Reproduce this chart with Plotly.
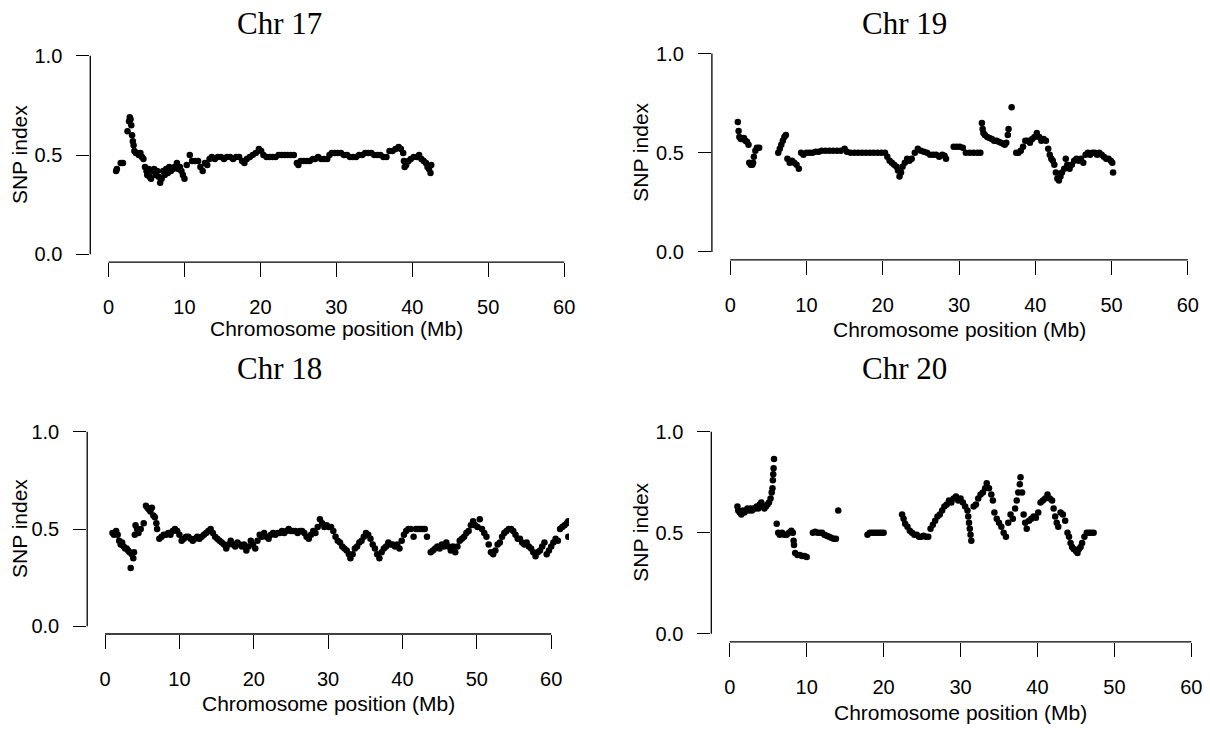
import plotly.graph_objects as go

# ---- SNP-index values along each chromosome (position in Mb, index) ----
chr17_pos = [1.0, 1.1, 1.6, 1.9, 2.5, 2.7, 2.8, 2.9, 3.0, 3.1, 3.2, 3.3, 3.4, 3.6, 3.8, 4.0, 4.2, 4.4,
             4.6, 4.8, 5.0, 5.1, 5.3, 5.4, 5.6, 5.8, 6.0, 6.2, 6.4, 6.6, 6.8, 7.0, 7.2, 7.4, 7.6, 7.8,
             8.0, 8.2, 8.5, 8.7, 9.0, 9.2, 9.4, 9.6, 9.8, 10.0, 10.3, 10.7, 11.0, 11.4, 11.8, 12.1,
             12.4, 12.7, 13.0, 13.3, 13.6, 14.0, 14.4, 14.8, 15.2, 15.6, 16.0, 16.4, 16.8, 17.2, 17.6,
             17.9, 18.2, 18.6, 19.0, 19.4, 19.8, 20.1, 20.4, 20.8, 21.2, 21.6, 22.0, 22.4, 22.8, 23.2,
             23.6, 24.0, 24.4, 24.8, 25.0, 25.3, 25.7, 26.1, 26.5, 26.9, 27.2, 27.6, 28.0, 28.4, 28.8,
             29.1, 29.4, 29.8, 30.2, 30.6, 31.0, 31.4, 31.8, 32.2, 32.6, 33.0, 33.4, 33.8, 34.2, 34.6,
             35.0, 35.4, 35.8, 36.2, 36.6, 37.0, 37.4, 37.8, 38.2, 38.5, 38.8, 38.9, 39.0, 39.2, 39.5,
             39.8, 40.2, 40.6, 40.9, 41.2, 41.5, 41.8, 42.0, 42.2, 42.4, 42.5]
chr17_idx = [0.42, 0.43, 0.46, 0.46, 0.62, 0.67, 0.69, 0.68, 0.65, 0.60, 0.57, 0.55, 0.52, 0.51, 0.51, 0.50, 0.51, 0.49,
             0.48, 0.44, 0.42, 0.40, 0.43, 0.39, 0.38, 0.42, 0.43, 0.40, 0.42, 0.39, 0.36, 0.38, 0.42, 0.40, 0.43, 0.41,
             0.44, 0.42, 0.43, 0.44, 0.46, 0.43, 0.44, 0.42, 0.40, 0.38, 0.45, 0.50, 0.47, 0.47, 0.47, 0.44,
             0.42, 0.46, 0.45, 0.48, 0.49, 0.48, 0.49, 0.49, 0.48, 0.49, 0.49, 0.48, 0.49, 0.49, 0.47,
             0.46, 0.48, 0.49, 0.50, 0.51, 0.53, 0.52, 0.50, 0.49, 0.49, 0.49, 0.49, 0.50, 0.50, 0.50,
             0.50, 0.50, 0.50, 0.46, 0.45, 0.47, 0.47, 0.47, 0.47, 0.48, 0.48, 0.49, 0.48, 0.48, 0.48,
             0.50, 0.51, 0.51, 0.51, 0.51, 0.50, 0.50, 0.49, 0.49, 0.49, 0.50, 0.50, 0.51, 0.51, 0.51,
             0.50, 0.50, 0.50, 0.49, 0.49, 0.52, 0.52, 0.53, 0.54, 0.53, 0.51, 0.47, 0.44, 0.45, 0.47,
             0.48, 0.49, 0.49, 0.50, 0.48, 0.47, 0.46, 0.44, 0.43, 0.41, 0.45]

chr19_pos = [1.0, 1.1, 1.2, 1.4, 1.6, 1.8, 2.0, 2.2, 2.4, 2.5, 2.7, 2.9, 3.0, 3.1, 3.3, 3.5, 3.8,
             6.3, 6.5, 6.7, 6.9, 7.1, 7.3, 7.5, 7.8, 8.1, 8.4, 8.7, 9.0, 9.3, 9.6, 10.0, 10.4, 10.8,
             11.2, 11.6, 12.0, 12.5, 13.0, 13.5, 14.0, 14.5, 15.0, 15.3, 15.8, 16.3, 16.8, 17.3, 17.8,
             18.3, 18.8, 19.3, 19.8, 20.3, 20.6, 20.9, 21.2, 21.5, 21.8, 22.0, 22.2, 22.4, 22.6, 22.9,
             23.2, 23.5, 23.8, 24.2, 24.6, 25.0, 25.4, 25.8, 26.2, 26.6, 27.0, 27.4, 27.8, 28.1, 28.3,
             29.3, 29.7, 30.1, 30.5, 30.9, 31.4, 31.9, 32.4, 32.8, 33.0, 33.1, 33.2, 33.4, 33.7, 34.0,
             34.3, 34.6, 34.9, 35.2, 35.5, 35.8, 36.0, 36.2, 36.4, 36.5, 36.9, 37.5, 37.8, 38.1, 38.4,
             38.7, 39.0, 39.3, 39.6, 39.9, 40.2, 40.5, 40.8, 41.1, 41.4, 41.7, 41.9, 42.1, 42.3, 42.5,
             42.7, 42.9, 43.1, 43.3, 43.5, 43.8, 44.0, 44.2, 44.5, 44.8, 45.1, 45.4, 45.7, 46.0, 46.3,
             46.6, 46.9, 47.2, 47.5, 47.8, 48.1, 48.4, 48.7, 49.0, 49.3, 49.6, 49.9, 50.1, 50.2]
chr19_idx = [0.655, 0.61, 0.58, 0.57, 0.57, 0.575, 0.56, 0.555, 0.54, 0.45, 0.44, 0.44, 0.45, 0.48, 0.51, 0.525, 0.525,
             0.50, 0.52, 0.54, 0.56, 0.58, 0.59, 0.47, 0.45, 0.46, 0.45, 0.44, 0.42, 0.50, 0.49, 0.50, 0.50, 0.50,
             0.505, 0.505, 0.51, 0.51, 0.51, 0.51, 0.51, 0.51, 0.52, 0.505, 0.50, 0.50, 0.50, 0.50, 0.50,
             0.50, 0.50, 0.50, 0.50, 0.50, 0.48, 0.46, 0.45, 0.44, 0.43, 0.41, 0.38, 0.40, 0.43, 0.45,
             0.47, 0.46, 0.47, 0.50, 0.52, 0.51, 0.505, 0.50, 0.49, 0.49, 0.49, 0.48, 0.49, 0.485, 0.47,
             0.53, 0.53, 0.53, 0.525, 0.50, 0.50, 0.50, 0.50, 0.50, 0.65, 0.62, 0.60, 0.59, 0.58, 0.575,
             0.57, 0.56, 0.56, 0.555, 0.55, 0.545, 0.54, 0.55, 0.59, 0.62, 0.73, 0.50, 0.50, 0.51, 0.53,
             0.56, 0.56, 0.55, 0.57, 0.58, 0.60, 0.58, 0.56, 0.57, 0.56, 0.52, 0.49, 0.47, 0.46, 0.44,
             0.40, 0.37, 0.36, 0.38, 0.40, 0.42, 0.47, 0.44, 0.42, 0.44, 0.46, 0.47, 0.46, 0.47, 0.45,
             0.49, 0.50, 0.49, 0.50, 0.50, 0.49, 0.50, 0.49, 0.48, 0.47, 0.47, 0.46, 0.45, 0.40]

chr18_pos = [1.0, 1.2, 1.5, 1.7, 1.9, 2.1, 2.3, 2.5, 2.7, 2.9, 3.1, 3.3, 3.45, 3.6, 3.8, 3.9, 4.0, 4.1,
             4.3, 4.5, 4.8, 5.2, 5.5, 5.7, 5.9, 6.1, 6.3, 6.5, 6.7, 6.9, 7.0, 7.3, 7.6, 7.9, 8.2, 8.5,
             8.8, 9.1, 9.4, 9.7, 10.0, 10.3, 10.6, 10.9, 11.2, 11.5, 11.8, 12.1, 12.4, 12.7, 13.0, 13.3,
             13.6, 13.9, 14.2, 14.5, 14.8, 15.1, 15.4, 15.7, 16.0, 16.3, 16.6, 16.9, 17.2, 17.5, 17.8,
             18.1, 18.4, 18.7, 19.0, 19.3, 19.6, 19.9, 20.2, 20.5, 20.8, 21.1, 21.4, 21.7, 22.0, 22.3,
             22.6, 22.9, 23.2, 23.5, 23.8, 24.1, 24.4, 24.7, 25.0, 25.3, 25.6, 25.9, 26.2, 26.5, 26.8,
             27.1, 27.4, 27.7, 28.0, 28.3, 28.6, 28.9, 29.2, 29.5, 29.8, 30.1, 30.4, 30.7, 31.0, 31.3,
             31.6, 31.9, 32.2, 32.5, 32.8, 33.0, 33.3, 33.6, 33.9, 34.2, 34.5, 34.8, 35.1, 35.4, 35.7,
             36.0, 36.3, 36.6, 36.9, 37.2, 37.5, 37.8, 38.1, 38.4, 38.7, 39.0, 39.3, 39.6, 39.9, 40.2,
             40.5, 40.8, 41.1, 41.5, 41.8, 42.1, 42.4, 42.7, 43.0, 43.3, 43.8, 44.1, 44.4, 44.7, 45.0,
             45.3, 45.6, 45.9, 46.2, 46.5, 46.8, 47.1, 47.4, 47.7, 48.0, 48.3, 48.6, 48.9, 49.2, 49.5,
             49.8, 50.1, 50.4, 50.7, 51.0, 51.3, 51.6, 51.9, 52.2, 52.5, 52.8, 53.1, 53.4, 53.7, 54.0,
             54.3, 54.6, 54.9, 55.2, 55.5, 55.8, 56.1, 56.4, 56.7, 57.0, 57.3, 57.6, 57.9, 58.2, 58.5,
             58.8, 59.1, 59.4, 59.7, 60.0, 60.3, 60.6, 60.9, 61.2, 61.5, 61.8, 62.1, 62.3, 62.3]
chr18_idx = [0.48, 0.47, 0.49, 0.47, 0.44, 0.42, 0.43, 0.41, 0.40, 0.40, 0.39, 0.38, 0.30, 0.37, 0.35, 0.38, 0.47, 0.52,
             0.50, 0.48, 0.50, 0.53, 0.62, 0.61, 0.60, 0.59, 0.61, 0.57, 0.56, 0.53, 0.50, 0.45, 0.46, 0.47, 0.47, 0.48,
             0.47, 0.49, 0.50, 0.49, 0.47, 0.44, 0.45, 0.46, 0.46, 0.45, 0.44, 0.45, 0.46, 0.45, 0.46, 0.47,
             0.48, 0.49, 0.50, 0.48, 0.46, 0.45, 0.44, 0.43, 0.42, 0.40, 0.42, 0.44, 0.42, 0.41, 0.43,
             0.42, 0.41, 0.42, 0.39, 0.41, 0.44, 0.42, 0.40, 0.44, 0.47, 0.46, 0.48, 0.46, 0.45, 0.47,
             0.48, 0.47, 0.48, 0.48, 0.49, 0.48, 0.49, 0.50, 0.49, 0.49, 0.49, 0.48, 0.49, 0.49, 0.48,
             0.46, 0.45, 0.47, 0.49, 0.48, 0.51, 0.55, 0.53, 0.51, 0.52, 0.51, 0.51, 0.49, 0.46, 0.44,
             0.43, 0.41, 0.40, 0.39, 0.37, 0.35, 0.37, 0.40, 0.41, 0.43, 0.44, 0.46, 0.48, 0.47, 0.45,
             0.42, 0.40, 0.37, 0.35, 0.38, 0.40, 0.41, 0.43, 0.42, 0.42, 0.41, 0.42, 0.40, 0.44, 0.47,
             0.49, 0.50, 0.50, 0.46, 0.50, 0.50, 0.50, 0.50, 0.50, 0.46, 0.38, 0.39, 0.40, 0.41, 0.40,
             0.42, 0.41, 0.43, 0.41, 0.39, 0.41, 0.38, 0.41, 0.44, 0.45, 0.46, 0.48, 0.49, 0.52, 0.54,
             0.52, 0.51, 0.55, 0.50, 0.48, 0.46, 0.42, 0.38, 0.37, 0.39, 0.42, 0.43, 0.46, 0.48, 0.49,
             0.50, 0.50, 0.49, 0.47, 0.45, 0.45, 0.43, 0.42, 0.43, 0.41, 0.40, 0.38, 0.36, 0.38, 0.39,
             0.41, 0.43, 0.37, 0.39, 0.41, 0.43, 0.45, 0.44, 0.50, 0.51, 0.52, 0.53, 0.54, 0.46]

chr20_pos = [1.0, 1.1, 1.3, 1.5, 1.7, 1.9, 2.1, 2.3, 2.5, 2.7, 2.9, 3.1, 3.3, 3.5, 3.7, 3.9, 4.1, 4.3,
             4.5, 4.7, 4.9, 5.1, 5.3, 5.45, 5.55, 5.6, 5.65, 5.7, 5.75, 6.1, 6.3, 6.5, 6.8, 7.1, 7.4,
             7.7, 8.0, 8.2, 8.3, 8.35, 8.5, 8.8, 9.1, 9.4, 9.7, 10.0, 10.8, 11.1, 11.4, 11.7, 12.0,
             12.3, 12.6, 12.9, 13.2, 13.5, 13.8, 14.1, 17.9, 18.2, 18.5, 18.8, 19.1, 19.4, 19.7, 20.0,
             22.4, 22.6, 22.8, 23.1, 23.4, 23.7, 24.0, 24.3, 24.6, 24.9, 25.2, 25.5, 25.8, 26.1, 26.4,
             26.7, 27.0, 27.3, 27.6, 27.9, 28.2, 28.5, 28.8, 29.1, 29.4, 29.7, 30.0, 30.3, 30.6, 30.9,
             31.0, 31.1, 31.2, 31.3, 31.4, 31.7, 32.0, 32.3, 32.6, 32.9, 33.2, 33.4, 33.7, 34.0, 34.2,
             34.4, 34.7, 35.0, 35.3, 35.6, 35.9, 36.2, 36.5, 36.8, 37.1, 37.3, 37.5, 37.7, 37.8, 38.0,
             38.2, 38.4, 38.6, 38.9, 39.2, 39.5, 39.8, 40.1, 40.4, 40.7, 41.0, 41.3, 41.6, 41.9, 42.1,
             42.3, 42.5, 42.7, 43.0, 43.3, 43.6, 43.9, 44.1, 44.3, 44.5, 44.7, 45.0, 45.2, 45.4, 45.6,
             45.8, 46.1, 46.4, 46.7, 47.0, 47.3]
chr20_idx = [0.63, 0.61, 0.60, 0.59, 0.61, 0.60, 0.61, 0.62, 0.61, 0.62, 0.61, 0.62, 0.62, 0.63, 0.62, 0.64, 0.65, 0.63,
             0.62, 0.63, 0.64, 0.65, 0.67, 0.70, 0.72, 0.76, 0.79, 0.82, 0.865, 0.545, 0.50, 0.49, 0.50, 0.49, 0.49,
             0.50, 0.51, 0.50, 0.46, 0.44, 0.40, 0.39, 0.39, 0.385, 0.385, 0.38, 0.50, 0.505, 0.50, 0.50, 0.50,
             0.49, 0.485, 0.48, 0.475, 0.47, 0.47, 0.61, 0.49, 0.50, 0.50, 0.50, 0.50, 0.50, 0.50, 0.50,
             0.59, 0.57, 0.545, 0.53, 0.51, 0.50, 0.49, 0.49, 0.48, 0.48, 0.485, 0.48, 0.48, 0.52, 0.54,
             0.56, 0.58, 0.59, 0.61, 0.63, 0.64, 0.66, 0.65, 0.67, 0.68, 0.66, 0.67, 0.65, 0.63, 0.61,
             0.58, 0.55, 0.52, 0.49, 0.46, 0.63, 0.64, 0.67, 0.69, 0.70, 0.72, 0.745, 0.72, 0.69, 0.66,
             0.60, 0.57, 0.55, 0.53, 0.50, 0.48, 0.55, 0.59, 0.57, 0.62, 0.66, 0.70, 0.74, 0.775, 0.70,
             0.59, 0.55, 0.52, 0.56, 0.57, 0.58, 0.575, 0.60, 0.65, 0.66, 0.67, 0.69, 0.67, 0.66, 0.62,
             0.58, 0.55, 0.53, 0.60, 0.59, 0.56, 0.50, 0.48, 0.45, 0.43, 0.42, 0.41, 0.40, 0.42, 0.43,
             0.45, 0.48, 0.50, 0.50, 0.50, 0.50]

x_ticks = [0, 10, 20, 30, 40, 50, 60]
y_ticks = [0.0, 0.5, 1.0]
y_tick_text = ["0.0", "0.5", "1.0"]

# panel layout: (title, positions, values, x-domain px, y-domain px, title pos, ylabel x, xlabel y)
W, H = 1210, 733
panels = [
    ("Chr 17", chr17_pos, chr17_idx, (90.3, 582.4), (45.3, 261.3), (279.6, 20.7), 19, 328),
    ("Chr 19", chr19_pos, chr19_idx, (711.9, 1206.1), (43.0, 259.0), (904.0, 20.7), 641, 329),
    ("Chr 18", chr18_pos, chr18_idx, (87.2, 569.0), (424.5, 636.2), (279.6, 369.0), 19, 706),
    ("Chr 20", chr20_pos, chr20_idx, (711.3, 1209.8), (424.2, 644.1), (904.0, 369.0), 641, 715),
]

SANS = "Liberation Sans, Arial, sans-serif"
SERIF = "Liberation Serif, Times New Roman, serif"

fig = go.Figure()
layout = dict(
    width=W, height=H,
    margin=dict(l=0, r=0, t=0, b=0),
    paper_bgcolor="white", plot_bgcolor="white",
    showlegend=False,
    annotations=[], shapes=[],
)

for i, (title, xs, ys, xd, yd, tpos, ylab_x, xlab_y) in enumerate(panels, start=1):
    sfx = "" if i == 1 else str(i)
    fig.add_trace(go.Scatter(
        x=xs, y=ys, mode="markers",
        marker=dict(color="black", size=6.5, line=dict(width=0)),
        xaxis="x" + sfx, yaxis="y" + sfx, hoverinfo="skip",
    ))
    layout["xaxis" + sfx] = dict(
        domain=[xd[0] / W, xd[1] / W], anchor="y" + sfx,
        range=[-2.4, 62.4], tickvals=x_ticks,
        showgrid=False, zeroline=False, showline=False,
        ticks="outside", ticklen=14, tickwidth=1.2, tickcolor="black",
        ticklabelstandoff=13,
        tickfont=dict(family=SANS, size=20, color="black"),
    )
    layout["yaxis" + sfx] = dict(
        domain=[1 - yd[1] / H, 1 - yd[0] / H], anchor="x" + sfx,
        range=[-0.04, 1.04], tickvals=y_ticks, ticktext=y_tick_text,
        showgrid=False, zeroline=False, showline=False,
        ticks="outside", ticklen=13, tickwidth=1.2, tickcolor="black",
        ticklabelstandoff=10,
        tickfont=dict(family=SANS, size=20, color="black"),
    )
    # axis lines spanning only the tick range
    layout["shapes"].append(dict(
        type="line", xref="x" + sfx + " domain", yref="y" + sfx,
        x0=0, x1=0, y0=0, y1=1, line=dict(color="black", width=1.3)))
    layout["shapes"].append(dict(
        type="line", xref="x" + sfx, yref="y" + sfx + " domain",
        x0=0, x1=60, y0=0, y1=0, line=dict(color="black", width=1.3)))
    # panel title
    layout["annotations"].append(dict(
        text=title, xref="paper", yref="paper",
        x=tpos[0] / W, y=1 - tpos[1] / H, xanchor="center", yanchor="middle",
        showarrow=False, font=dict(family=SERIF, size=31, color="black")))
    # axis titles
    layout["annotations"].append(dict(
        text="SNP index", xref="paper", yref="y" + sfx,
        x=ylab_x / W, y=0.5, xanchor="center", yanchor="middle", textangle=-90,
        showarrow=False, font=dict(family=SANS, size=21, color="black")))
    layout["annotations"].append(dict(
        text="Chromosome position (Mb)", xref="x" + sfx, yref="paper",
        x=30, y=1 - xlab_y / H, xanchor="center", yanchor="middle",
        showarrow=False, font=dict(family=SANS, size=21, color="black")))

fig.update_layout(**layout)
fig.write_html("out.html")
